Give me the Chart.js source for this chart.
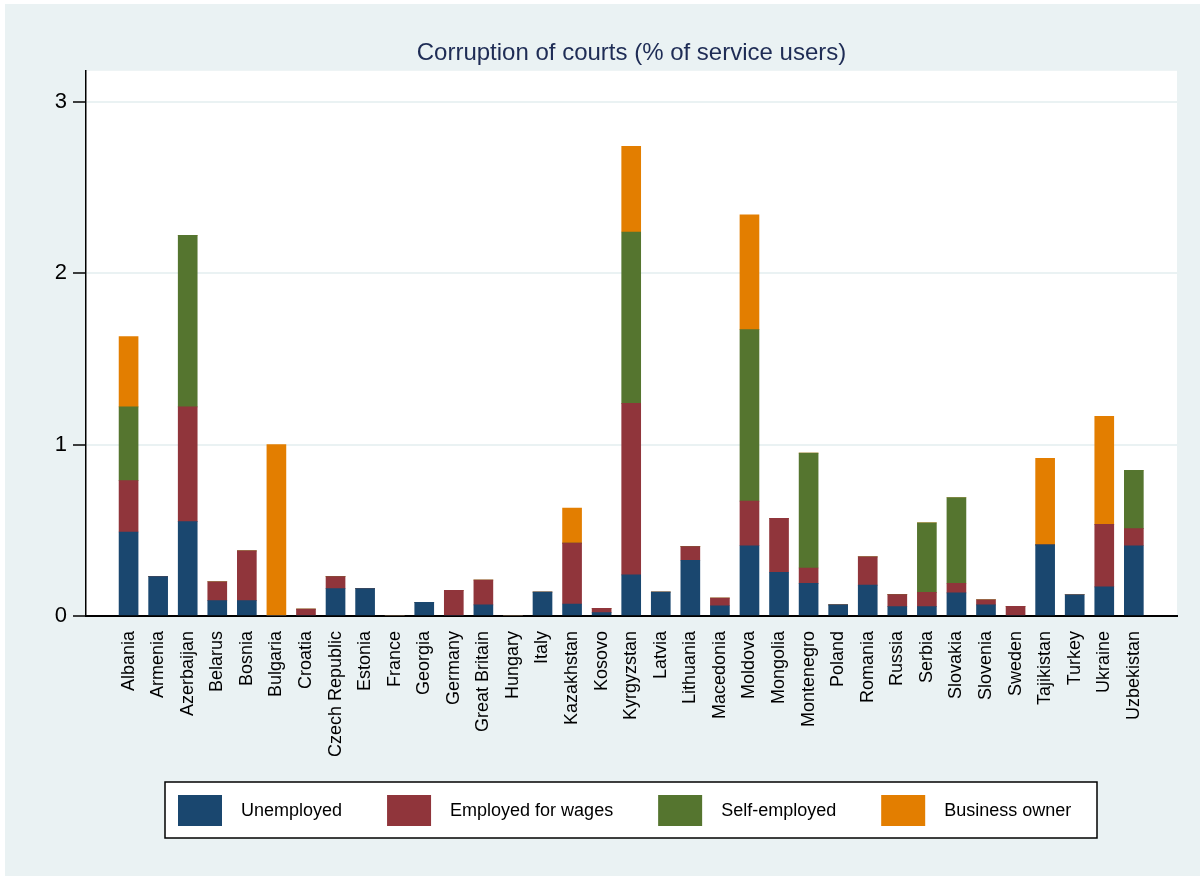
<!DOCTYPE html>
<html>
<head>
<meta charset="utf-8">
<title>Corruption of courts</title>
<script src="https://cdn.jsdelivr.net/npm/chart.js@4.4.0/dist/chart.umd.min.js"></script>
<style>
  body { margin: 0; background: #fff; }
  canvas { display: block; }
</style>
</head>
<body>
<canvas id="courtsChart" width="1200" height="876"></canvas>
<script>
// Países del eje X
const paises = ["Albania", "Armenia", "Azerbaijan", "Belarus", "Bosnia", "Bulgaria", "Croatia",
    "Czech Republic", "Estonia", "France", "Georgia", "Germany", "Great Britain", "Hungary", "Italy",
    "Kazakhstan", "Kosovo", "Kyrgyzstan", "Latvia", "Lithuania", "Macedonia", "Moldova", "Mongolia",
    "Montenegro", "Poland", "Romania", "Russia", "Serbia", "Slovakia", "Slovenia", "Sweden",
    "Tajikistan", "Turkey", "Ukraine", "Uzbekistan"];

// % de usuarios por situación laboral (mismo orden que paises)
const desempleados = [0.49, 0.23, 0.55, 0.09, 0.09, 0, 0, 0.16, 0.16, 0, 0.08, 0, 0.065, 0, 0.14,
    0.07, 0.02, 0.24, 0.14, 0.325, 0.06, 0.41, 0.255, 0.19, 0.065, 0.18, 0.055, 0.055, 0.135, 0.065,
    0, 0.415, 0.124, 0.17, 0.41];
const asalariados = [0.30, 0, 0.67, 0.11, 0.29, 0, 0.04, 0.07, 0, 0, 0, 0.15, 0.145, 0, 0,
    0.355, 0.025, 1.0, 0, 0.08, 0.045, 0.26, 0.315, 0.09, 0, 0.165, 0.07, 0.083, 0.056, 0.03,
    0.057, 0, 0, 0.365, 0.10];
const autonomos = [0.43, 0, 1.0, 0, 0, 0, 0, 0, 0, 0, 0, 0, 0, 0, 0,
    0, 0, 1.0, 0, 0, 0, 1.0, 0, 0.67, 0, 0, 0, 0.405, 0.50, 0,
    0, 0, 0, 0, 0.34];
const empresarios = [0.41, 0, 0, 0, 0, 1.0, 0, 0, 0, 0, 0, 0, 0, 0, 0,
    0.205, 0, 0.50, 0, 0, 0, 0.67, 0, 0, 0, 0, 0, 0, 0, 0,
    0, 0.505, 0, 0.63, 0];

// Marcas del eje Y
const ticksY = [0, 1, 2, 3];

const series = [
    { label: "Unemployed", valores: desempleados, color: "#1A476F" },
    { label: "Employed for wages", valores: asalariados, color: "#90353B" },
    { label: "Self-employed", valores: autonomos, color: "#55752F" },
    { label: "Business owner", valores: empresarios, color: "#E37E00" }
];

const fuente = '"Liberation Sans", Arial, sans-serif';

// Fondo gris azulado y zona del gráfico en blanco
const fondo = {
    id: "fondo",
    beforeDraw(chart) {
        const { ctx, chartArea: a } = chart;
        ctx.save();
        ctx.fillStyle = "#fff";
        ctx.fillRect(0, 0, chart.width, chart.height);
        ctx.fillStyle = "#EAF2F3";
        ctx.fillRect(5, 4, chart.width - 5, chart.height - 4);
        ctx.fillStyle = "#fff";
        ctx.fillRect(a.left, a.top, a.right - a.left, a.bottom - a.top);
        ctx.restore();
    }
};

// Leyenda en una fila dentro de un recuadro
const leyenda = {
    id: "leyenda",
    afterDraw(chart) {
        const ctx = chart.ctx;
        ctx.save();
        ctx.fillStyle = "#fff";
        ctx.fillRect(165, 782, 932, 56);
        ctx.strokeStyle = "#000";
        ctx.lineWidth = 1.5;
        ctx.strokeRect(165, 782, 932, 56);
        ctx.font = "18px " + fuente;
        ctx.textBaseline = "middle";
        let x = 178;
        chart.data.datasets.forEach(ds => {
            ctx.fillStyle = ds.backgroundColor;
            ctx.fillRect(x, 795, 44, 31);
            ctx.fillStyle = "#000";
            ctx.fillText(ds.label, x + 63, 811);
            x += 63 + ctx.measureText(ds.label).width + 45;
        });
        ctx.restore();
    }
};

const ctx = document.getElementById("courtsChart").getContext("2d");
new Chart(ctx, {
    type: "bar",
    data: {
        datasets: series.map(s => ({
            label: s.label,
            data: s.valores.map((v, i) => ({ x: i, y: v })),
            backgroundColor: s.color,
            borderWidth: 0,
            barThickness: 19
        }))
    },
    options: {
        responsive: false,
        animation: false,
        layout: { padding: { top: 39, right: 23, bottom: 0, left: 0 } },
        plugins: {
            legend: { display: false },
            tooltip: { enabled: false },
            title: {
                display: true,
                text: "Corruption of courts (% of service users)",
                color: "#1E2C55",
                font: { family: fuente, size: 24, weight: "normal" },
                fullSize: false,
                padding: { top: 0, bottom: 3 }
            }
        },
        scales: {
            x: {
                type: "linear",
                stacked: true,
                offset: false,
                min: -1.44,
                max: 35.46,
                afterBuildTicks: scale => { scale.ticks = paises.map((p, i) => ({ value: i })); },
                afterFit: scale => { scale.height = 260; },
                grid: { display: false, drawTicks: false, offset: false },
                border: { display: true, color: "#000", width: 2 },
                ticks: {
                    autoSkip: false,
                    minRotation: 90,
                    maxRotation: 90,
                    padding: 15,
                    color: "#000",
                    font: { family: fuente, size: 18 },
                    callback: value => paises[value] ?? ""
                }
            },
            y: {
                stacked: true,
                min: 0,
                max: 3.18,
                afterBuildTicks: scale => { scale.ticks = ticksY.map(v => ({ value: v })); },
                afterFit: scale => { scale.width = 86; },
                grid: {
                    color: "#EAF2F3",
                    lineWidth: 2,
                    tickColor: "#000",
                    tickLength: 13,
                    tickWidth: 1.5
                },
                border: { display: true, color: "#000", width: 1.5 },
                ticks: {
                    padding: 6,
                    color: "#000",
                    font: { family: fuente, size: 22 }
                }
            }
        }
    },
    plugins: [fondo, leyenda]
});
</script>
</body>
</html>
